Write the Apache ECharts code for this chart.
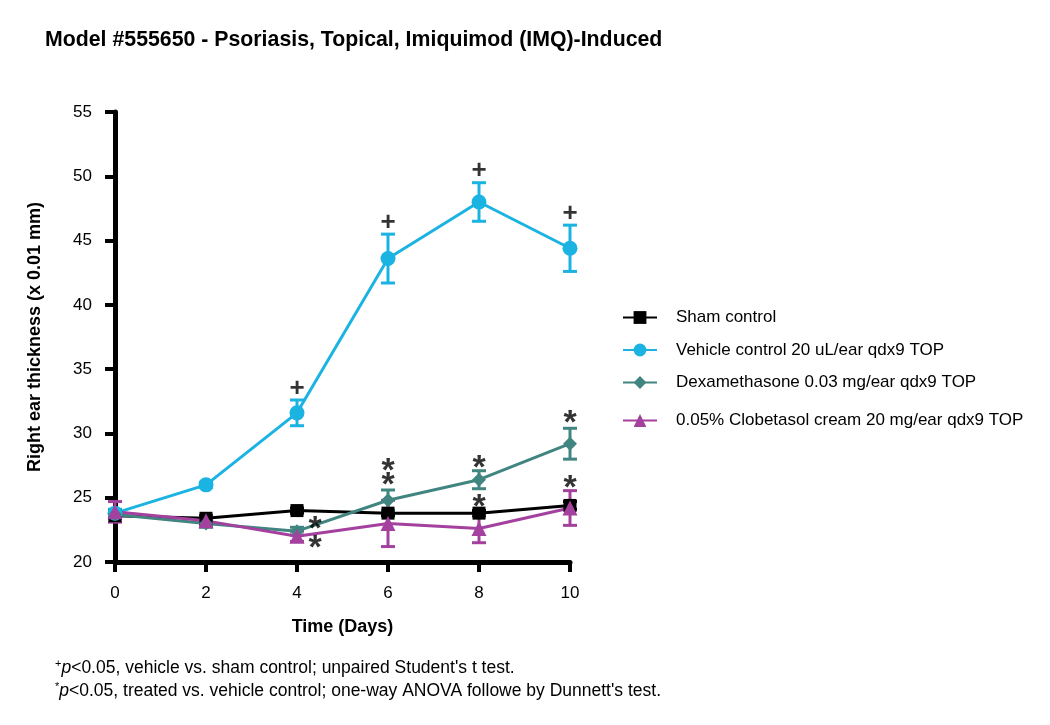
<!DOCTYPE html>
<html>
<head>
<meta charset="utf-8">
<style>
  html, body { margin: 0; padding: 0; background: #fff; }
  #chart { width: 1050px; height: 725px; }
</style>
<script src="https://cdn.jsdelivr.net/npm/echarts@6/dist/echarts.min.js"></script>
</head>
<body>
<div id="chart"></div>
<script>
const days = [0, 2, 4, 6, 8, 10];

const shamNom = 'Sham control';
const vehicleNom = 'Vehicle control 20 uL/ear qdx9 TOP';
const dexNom = 'Dexamethasone 0.03 mg/ear qdx9 TOP';
const clobNom = '0.05% Clobetasol cream 20 mg/ear qdx9 TOP';

const shamMitja = [23.6, 23.4, 24.0, 23.8, 23.8, 24.4];
const shamErr = [0.2, 0.2, 0.2, 0.2, 0.2, 0.3];
const vehicleMitja = [23.8, 26.0, 31.6, 43.6, 48.0, 44.4];
const vehicleErr = [0.3, 0.2, 1.0, 1.9, 1.5, 1.8];
const dexMitja = [23.7, 23.0, 22.4, 24.8, 26.4, 29.2];
const dexErr = [0.3, 0.3, 0.3, 0.8, 0.7, 1.2];
const clobMitja = [23.9, 23.2, 22.0, 23.0, 22.6, 24.2];
const clobErr = [0.8, 0.3, 0.4, 1.8, 1.1, 1.35];

// marques de significacio: [dia, valor]
const marquesMes = [[4, 33.5], [6, 46.4], [8, 50.4], [10, 47.1]];
const marquesEstrella = [
  [4.4, 23.1], [4.4, 21.6],
  [6, 27.55], [6, 26.5],
  [8, 27.8], [8, 24.8],
  [10, 31.3], [10, 26.25]
];

const FONT = 'Liberation Sans';
const COLORS = {
  sham: '#000000',
  vehicle: '#1ab3e2',
  dex: '#418581',
  clob: '#a4409e'
};

function punts(mitja) {
  return days.map((d, i) => [d, mitja[i]]);
}

function barres(mitja, err) {
  return days.map((d, i) => [d, mitja[i] - err[i], mitja[i] + err[i]]);
}

function serieBarres(nom, mitja, err, color) {
  return {
    name: nom + ' err',
    type: 'custom',
    z: 1,
    silent: true,
    renderItem: (params, api) => {
      const x = api.value(0);
      const baix = api.coord([x, api.value(1)]);
      const dalt = api.coord([x, api.value(2)]);
      const half = 7;
      const style = { stroke: color, lineWidth: 3 };
      return {
        type: 'group',
        children: [
          { type: 'line', shape: { x1: baix[0], y1: baix[1], x2: dalt[0], y2: dalt[1] }, style },
          { type: 'line', shape: { x1: dalt[0] - half, y1: dalt[1], x2: dalt[0] + half, y2: dalt[1] }, style },
          { type: 'line', shape: { x1: baix[0] - half, y1: baix[1], x2: baix[0] + half, y2: baix[1] }, style }
        ]
      };
    },
    encode: { x: 0, y: [1, 2] },
    data: barres(mitja, err)
  };
}

function serieLinia(nom, mitja, color, simbol, mida) {
  return {
    name: nom,
    type: 'line',
    z: 3,
    symbol: simbol,
    symbolSize: mida,
    showAllSymbol: true,
    lineStyle: { color, width: 3 },
    itemStyle: { color },
    data: punts(mitja)
  };
}

function serieMarques(nom, dades, text, mida, despl) {
  return {
    name: nom,
    type: 'scatter',
    z: 5,
    silent: true,
    symbolSize: 1,
    itemStyle: { color: 'transparent' },
    label: {
      show: true,
      position: 'inside',
      formatter: text,
      offset: [0, despl],
      color: '#000',
      fontSize: mida,
      fontWeight: 'bold',
      fontFamily: FONT
    },
    data: dades
  };
}

const legendText = { fontSize: 17, color: '#000', fontFamily: FONT, padding: [0, 0, 0, 14] };
const notaRich = {
  sup: { fontSize: 11, verticalAlign: 'top', padding: [0, 0, 9, 0], fill: '#000', fontFamily: FONT },
  it: { fontSize: 17.5, fontStyle: 'italic', fill: '#000', fontFamily: FONT },
  n: { fontSize: 17.5, fill: '#000', fontFamily: FONT }
};

const chart = echarts.init(document.getElementById('chart'), null, { renderer: 'canvas' });

chart.setOption({
  animation: false,
  backgroundColor: '#fff',
  textStyle: { fontFamily: FONT },
  title: {
    text: 'Model #555650 - Psoriasis, Topical, Imiquimod (IMQ)-Induced',
    left: 40,
    top: 25,
    textStyle: { fontSize: 21.3, fontWeight: 'bold', color: '#000', fontFamily: FONT }
  },
  grid: { left: 115, right: 480, top: 112, bottom: 163 },
  legend: [
    {
      orient: 'vertical',
      left: 617,
      top: 304,
      itemWidth: 34,
      itemHeight: 16,
      itemGap: 15.5,
      data: [shamNom, vehicleNom, dexNom],
      textStyle: legendText
    },
    {
      orient: 'vertical',
      left: 617,
      top: 407,
      itemWidth: 34,
      itemHeight: 16,
      data: [clobNom],
      textStyle: legendText
    }
  ],
  xAxis: {
    type: 'value',
    min: 0,
    max: 10,
    interval: 2,
    name: 'Time (Days)',
    nameLocation: 'middle',
    nameGap: 56,
    nameTextStyle: { fontSize: 18, fontWeight: 'bold', color: '#000', fontFamily: FONT },
    axisLine: { show: true, onZero: false, lineStyle: { color: '#000', width: 5 } },
    axisTick: { show: true, length: 10, lineStyle: { color: '#000', width: 4 } },
    axisLabel: { fontSize: 17, color: '#000', margin: 23 },
    splitLine: { show: false }
  },
  yAxis: {
    type: 'value',
    min: 20,
    max: 55,
    interval: 5,
    name: 'Right ear thickness (x 0.01 mm)',
    nameLocation: 'middle',
    nameGap: 71,
    nameTextStyle: { fontSize: 18, fontWeight: 'bold', color: '#000', fontFamily: FONT },
    axisLine: { show: true, lineStyle: { color: '#000', width: 5 } },
    axisTick: { show: true, length: 10, lineStyle: { color: '#000', width: 4 } },
    axisLabel: { fontSize: 17, color: '#000', margin: 23 },
    splitLine: { show: false }
  },
  graphic: [
    {
      type: 'text',
      left: 55,
      top: 658,
      style: {
        text: '{sup|+}{it|p}{n|<0.05, vehicle vs. sham control; unpaired Student\'s t test.}',
        rich: notaRich
      }
    },
    {
      type: 'text',
      left: 55,
      top: 681,
      style: {
        text: '{sup|*}{it|p}{n|<0.05, treated vs. vehicle control; one-way ANOVA followe by Dunnett\'s test.}',
        rich: notaRich
      }
    }
  ],
  series: [
    serieBarres(shamNom, shamMitja, shamErr, COLORS.sham),
    serieBarres(vehicleNom, vehicleMitja, vehicleErr, COLORS.vehicle),
    serieBarres(dexNom, dexMitja, dexErr, COLORS.dex),
    serieBarres(clobNom, clobMitja, clobErr, COLORS.clob),
    serieLinia(shamNom, shamMitja, COLORS.sham, 'rect', 13),
    serieLinia(vehicleNom, vehicleMitja, COLORS.vehicle, 'circle', 15),
    serieLinia(dexNom, dexMitja, COLORS.dex, 'diamond', 14),
    serieLinia(clobNom, clobMitja, COLORS.clob, 'triangle', 15),
    serieMarques('mes', marquesMes, '+', 26, 0),
    serieMarques('estrella', marquesEstrella, '*', 34, 7)
  ]
});
</script>
</body>
</html>
